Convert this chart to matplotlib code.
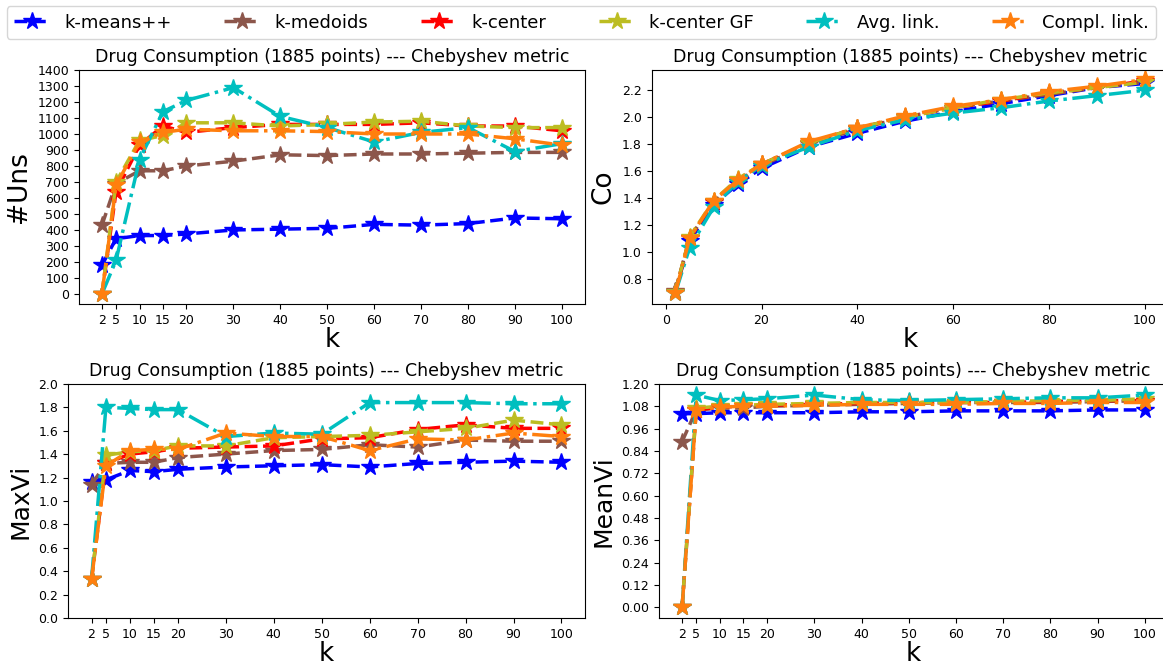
import numpy as np
import matplotlib
matplotlib.use('Agg')
import matplotlib.pyplot as plt

k_values = [2, 5, 10, 15, 20, 30, 40, 50, 60, 70, 80, 90, 100]
methods = ['k-means++', 'k-medoids', 'k-center', 'k-center GF', 'Avg. link.', 'Compl. link.']
colors = ['blue', '#8c564b', 'red', '#bcbd22', 'c', '#ff7f0e']
styles = ['--', '--', '--', '--', '-.', '-.']

uns = {
    'k-means++':    [180, 345, 365, 365, 375, 400, 405, 410, 435, 430, 440, 475, 470],
    'k-medoids':    [430, 690, 770, 770, 800, 830, 870, 865, 875, 875, 880, 885, 885],
    'k-center':     [0, 640, 930, 1050, 1010, 1040, 1060, 1060, 1060, 1070, 1050, 1050, 1020],
    'k-center GF':  [0, 700, 960, 990, 1070, 1070, 1050, 1060, 1075, 1080, 1050, 1040, 1040],
    'Avg. link.':   [0, 210, 840, 1140, 1210, 1290, 1110, 1040, 950, 1010, 1040, 890, 940],
    'Compl. link.': [0, 680, 950, 1010, 1030, 1020, 1020, 1015, 1000, 1000, 1000, 970, 930],
}
co = {
    'k-means++':    [0.70, 1.08, 1.35, 1.50, 1.62, 1.78, 1.88, 1.97, 2.04, 2.10, 2.16, 2.22, 2.25],
    'k-medoids':    [0.71, 1.10, 1.37, 1.52, 1.64, 1.80, 1.91, 2.00, 2.07, 2.12, 2.17, 2.22, 2.26],
    'k-center':     [0.70, 1.10, 1.37, 1.53, 1.65, 1.81, 1.92, 2.00, 2.07, 2.12, 2.18, 2.22, 2.27],
    'k-center GF':  [0.70, 1.11, 1.38, 1.54, 1.65, 1.81, 1.92, 2.00, 2.07, 2.13, 2.18, 2.22, 2.26],
    'Avg. link.':   [0.69, 1.03, 1.33, 1.52, 1.64, 1.78, 1.90, 1.98, 2.03, 2.07, 2.12, 2.16, 2.20],
    'Compl. link.': [0.69, 1.10, 1.38, 1.53, 1.65, 1.82, 1.92, 2.01, 2.08, 2.13, 2.19, 2.23, 2.28],
}
maxvi = {
    'k-means++':    [1.16, 1.18, 1.26, 1.25, 1.27, 1.29, 1.30, 1.31, 1.29, 1.32, 1.33, 1.34, 1.33],
    'k-medoids':    [1.14, 1.32, 1.33, 1.33, 1.37, 1.40, 1.43, 1.44, 1.48, 1.46, 1.52, 1.51, 1.51],
    'k-center':     [0.33, 1.32, 1.40, 1.42, 1.45, 1.46, 1.47, 1.53, 1.54, 1.61, 1.65, 1.62, 1.62],
    'k-center GF':  [0.33, 1.39, 1.42, 1.43, 1.47, 1.47, 1.54, 1.55, 1.56, 1.59, 1.62, 1.69, 1.65],
    'Avg. link.':   [0.33, 1.80, 1.79, 1.78, 1.78, 1.55, 1.58, 1.57, 1.84, 1.84, 1.84, 1.83, 1.83],
    'Compl. link.': [0.33, 1.30, 1.43, 1.44, 1.44, 1.58, 1.55, 1.55, 1.43, 1.53, 1.52, 1.58, 1.55],
}
meanvi = {
    'k-means++':    [1.04, 1.04, 1.045, 1.045, 1.045, 1.045, 1.05, 1.05, 1.055, 1.055, 1.055, 1.06, 1.06],
    'k-medoids':    [0.89, 1.06, 1.07, 1.07, 1.08, 1.085, 1.09, 1.095, 1.10, 1.10, 1.10, 1.105, 1.11],
    'k-center':     [0.0, 1.06, 1.075, 1.08, 1.085, 1.09, 1.095, 1.10, 1.10, 1.10, 1.105, 1.11, 1.11],
    'k-center GF':  [0.0, 1.07, 1.08, 1.085, 1.09, 1.095, 1.10, 1.10, 1.10, 1.105, 1.11, 1.11, 1.12],
    'Avg. link.':   [0.0, 1.14, 1.11, 1.115, 1.12, 1.14, 1.115, 1.11, 1.115, 1.12, 1.125, 1.125, 1.14],
    'Compl. link.': [0.0, 1.06, 1.075, 1.08, 1.08, 1.085, 1.09, 1.09, 1.09, 1.095, 1.095, 1.10, 1.10],
}

title = 'Drug Consumption (1885 points) --- Chebyshev metric'

fig = plt.figure(figsize=(11.63, 6.67), dpi=100)
# right-hand panels run slightly past the figure edge, as in the reference crop
ax_uns = fig.add_axes([0.0679, 0.544, 0.4351, 0.351])
ax_co = fig.add_axes([0.5604, 0.544, 0.4444, 0.351])
ax_max = fig.add_axes([0.0585, 0.0735, 0.4445, 0.351])
ax_mean = fig.add_axes([0.5666, 0.0735, 0.4377, 0.351])


def draw(ax, data, ylabel, ysize):
    lines = []
    for m, c, s in zip(methods, colors, styles):
        ln, = ax.plot(k_values, data[m], linestyle=s, color=c, marker='*',
                      markersize=13, linewidth=2.5, label=m)
        lines.append(ln)
    ax.set_title(title, fontsize=12.5)
    ax.set_xlabel('k', fontsize=19, labelpad=0)
    ax.set_ylabel(ylabel, fontsize=ysize)
    ax.tick_params(labelsize=9)
    return lines


lines = draw(ax_uns, uns, '#Uns', 19)
ax_uns.set_xticks(k_values)
ax_uns.set_yticks(np.arange(0, 1401, 100))
ax_uns.set_ylim(-64, 1400)

draw(ax_co, co, 'Co', 19)
ax_co.set_ylim(0.61, 2.35)
ax_co.set_yticks(np.arange(0.8, 2.21, 0.2))

draw(ax_max, maxvi, 'MaxVi', 18)
ax_max.set_xticks(k_values)
ax_max.set_ylim(0, 2.0)
ax_max.set_yticks(np.arange(0, 2.01, 0.2))

draw(ax_mean, meanvi, 'MeanVi', 18)
ax_mean.set_xticks(k_values)
ax_mean.set_ylim(-0.057, 1.2)
ax_mean.set_yticks(np.arange(0, 1.21, 0.12))
ax_mean.yaxis.set_major_formatter(matplotlib.ticker.FormatStrFormatter('%.2f'))

fig.legend(handles=lines, loc='upper center', ncol=6, fontsize=13,
           bbox_to_anchor=(0.5, 1.0), columnspacing=2.9, handletextpad=0.8,
           borderaxespad=0.35)

fig.savefig('out.png', dpi=100)
